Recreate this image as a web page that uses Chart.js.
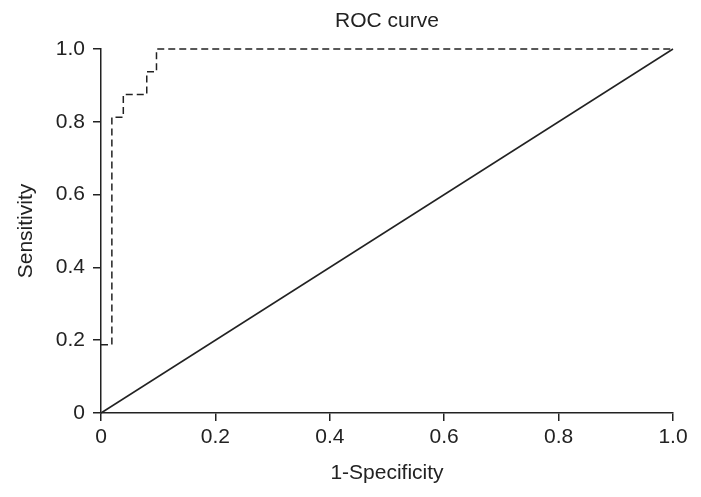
<!DOCTYPE html>
<html>
<head>
<meta charset="utf-8">
<script src="https://cdn.jsdelivr.net/npm/chart.js@4/dist/chart.umd.min.js"></script>
<style>
  html, body { margin: 0; padding: 0; background: #ffffff; }
  #wrap { width: 701px; height: 497px; }
</style>
</head>
<body>
<div id="wrap"><canvas id="c" width="701" height="497"></canvas></div>
<script>
// ROC curve (step)
const rocFpr = [0, 0.019, 0.019, 0.039, 0.039, 0.080, 0.080, 0.097, 0.097, 1.0];
const rocTpr = [0.1875, 0.1875, 0.8125, 0.8125, 0.875, 0.875, 0.9375, 0.9375, 1.0, 1.0];
// reference diagonal
const diagX = [0, 1];
const diagY = [0, 1];
// tick labels
const xTickLabels = ['0', '0.2', '0.4', '0.6', '0.8', '1.0'];
const yTickLabels = ['0', '0.2', '0.4', '0.6', '0.8', '1.0'];
const titleText = 'ROC curve';
const xTitle = '1-Specificity';
const yTitle = 'Sensitivity';

const ink = '#222222';
const fontFamily = '"Liberation Sans", Arial, sans-serif';
const fs = 21;

const rocPts = rocFpr.map((x, i) => ({ x: x, y: rocTpr[i] }));
const diagPts = diagX.map((x, i) => ({ x: x, y: diagY[i] }));

function tickLabel(arr) {
  return function (value, index) { return arr[index] !== undefined ? arr[index] : value; };
}

new Chart(document.getElementById('c'), {
  type: 'scatter',
  data: {
    datasets: [
      {
        data: rocPts,
        showLine: true,
        borderColor: ink,
        borderWidth: 1.5,
        borderDash: [7, 4],
        pointRadius: 0,
        fill: false,
        tension: 0,
        clip: false
      },
      {
        data: diagPts,
        showLine: true,
        borderColor: ink,
        borderWidth: 1.5,
        pointRadius: 0,
        fill: false,
        tension: 0,
        clip: false
      }
    ]
  },
  options: {
    responsive: false,
    animation: false,
    devicePixelRatio: 1,
    layout: { padding: { left: 0, right: 28, top: 0, bottom: 0 } },
    plugins: {
      legend: { display: false },
      tooltip: { enabled: false },
      title: {
        display: true,
        fullSize: false,
        text: titleText,
        color: ink,
        font: { family: fontFamily, size: fs, weight: 'normal', lineHeight: 1.2 },
        padding: { top: 9, bottom: 14.8 }
      }
    },
    scales: {
      x: {
        type: 'linear',
        min: 0, max: 1,
        afterFit: function (s) { s.height = 84; },
        ticks: {
          stepSize: 0.2,
          color: ink,
          padding: 4,
          maxRotation: 0,
          font: { family: fontFamily, size: fs },
          callback: tickLabel(xTickLabels)
        },
        grid: {
          display: true,
          drawOnChartArea: false,
          drawTicks: true,
          tickLength: 8,
          color: ink,
          lineWidth: 1.5
        },
        border: { display: true, color: ink, width: 1.5 },
        title: {
          display: true,
          text: xTitle,
          color: ink,
          font: { family: fontFamily, size: fs, lineHeight: 1.2 },
          padding: { top: 4, bottom: 11 }
        }
      },
      y: {
        type: 'linear',
        min: 0, max: 1,
        afterFit: function (s) { s.width = 101; },
        ticks: {
          stepSize: 0.2,
          color: ink,
          padding: 8,
          font: { family: fontFamily, size: fs },
          callback: tickLabel(yTickLabels)
        },
        grid: {
          display: true,
          drawOnChartArea: false,
          drawTicks: true,
          tickLength: 8,
          color: ink,
          lineWidth: 1.5
        },
        border: { display: true, color: ink, width: 1.5 },
        title: {
          display: true,
          text: yTitle,
          color: ink,
          font: { family: fontFamily, size: fs, lineHeight: 1.2 },
          padding: { top: 14, bottom: 4 }
        }
      }
    }
  }
});
</script>
</body>
</html>
